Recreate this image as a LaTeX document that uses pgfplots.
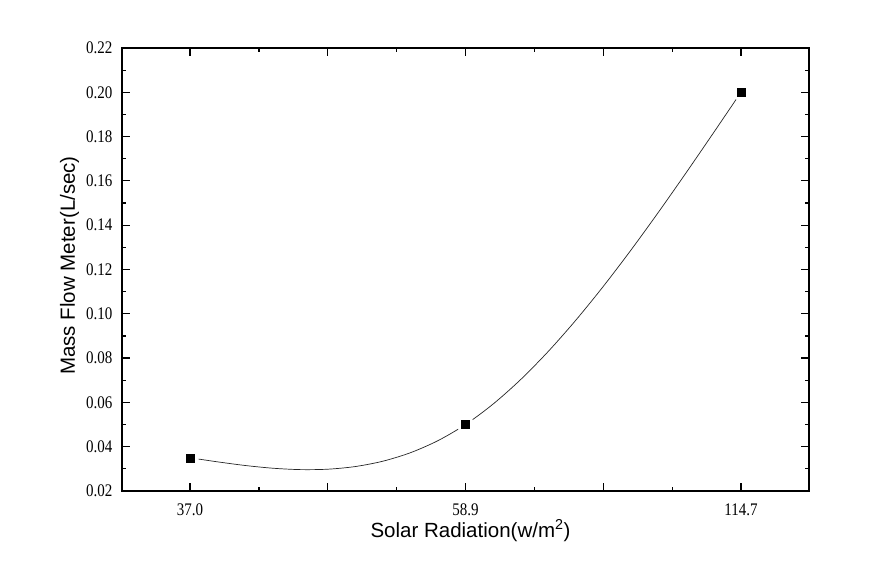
\documentclass[border=0pt]{standalone}
\usepackage{pgfplots}
\pgfplotsset{compat=1.18}
\usepackage{fontspec}
\setmainfont{Liberation Serif}
\newfontfamily\arialf{Liberation Sans}
\begin{document}
\begin{tikzpicture}
\begin{axis}[
  name=ax,
  scale only axis,
  width=687bp, height=443bp,
  xmin=-0.247, xmax=2.247,
  ymin=0.02, ymax=0.22,
  xtick={0,0.5,1,1.5,2},
  xticklabels={37.0,,58.9,,114.7},
  minor x tick num=1,
  ytick={0.02,0.04,...,0.221},
  minor y tick num=1,
  tick align=inside,
  major tick length=8bp,
  minor tick length=4bp,
  axis line style={line width=1.4bp},
  every tick/.style={line width=1.2bp, black},
  /pgf/number format/assume math mode=true,
  yticklabel style={/pgf/number format/fixed, /pgf/number format/fixed zerofill, /pgf/number format/precision=2, font=\fontsize{15bp}{17bp}\selectfont, yscale=1.18, anchor=east, xshift=-6bp},
  xticklabel style={font=\fontsize{15bp}{17bp}\selectfont, yscale=1.18, anchor=base, yshift=-21bp},
  xlabel={Solar Radiation(w/m\textsuperscript{2})},
  ylabel={Mass Flow Meter(L/sec)},
  label style={font=\arialf\fontsize{20.5bp}{22bp}\selectfont},
  xlabel style={at={([xshift=5bp,yshift=-46bp]axis description cs:0.5,0)}, anchor=base},
  ylabel style={at={([xshift=-47bp,yshift=4bp]axis description cs:0,0.5)}, anchor=base},
  clip=false,
]
\addplot[black!85, line width=0.7bp, smooth, tension=0.5] coordinates {
  (0,0.035) (0.1,0.03316) (0.2,0.03152) (0.3,0.03029) (0.4,0.02966) (0.5,0.02984)
  (0.6,0.03104) (0.7,0.03345) (0.8,0.03728) (0.9,0.04273) (1,0.05)
  (1.1,0.05923) (1.2,0.07028) (1.3,0.08295) (1.4,0.09704) (1.5,0.11234)
  (1.6,0.12866) (1.7,0.14579) (1.8,0.16352) (1.9,0.18166) (2,0.20)
};
\addplot[only marks, mark=*, mark size=8.5bp, white] coordinates {
  (0,0.035) (1,0.05) (2,0.20)
};
\addplot[only marks, mark=square*, mark size=4bp, black] coordinates {
  (0,0.035) (1,0.05) (2,0.20)
};
\end{axis}
\pgfresetboundingbox
\path (ax.south west) ++(-122bp,-91bp) rectangle ++(870bp,582bp);
\end{tikzpicture}
\end{document}
